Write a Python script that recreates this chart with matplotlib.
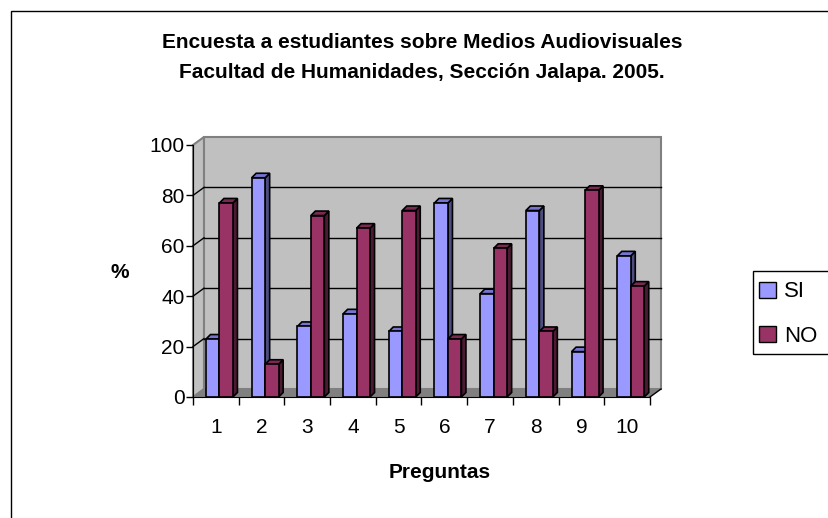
import matplotlib
matplotlib.use("Agg")
import matplotlib.pyplot as plt
from matplotlib.patches import Polygon, Rectangle, Patch

plt.rcParams['font.family'] = ['Liberation Sans', 'DejaVu Sans']

preguntas = ["1", "2", "3", "4", "5", "6", "7", "8", "9", "10"]
si = [23, 87, 28, 33, 26, 77, 41, 74, 18, 56]
no = [77, 13, 72, 67, 74, 23, 59, 26, 82, 44]
yticks = [0, 20, 40, 60, 80, 100]

W, H = 829, 518
fig = plt.figure(figsize=(W / 100, H / 100), dpi=100)
fig.patch.set_facecolor("white")

# outer chart border (cut by right/bottom of the image)
fig.patches.append(Rectangle((11 / W, -0.05), 1.1, 1 - 11 / H + 0.05,
                             transform=fig.transFigure, fill=False,
                             edgecolor="black", lw=1))

# plot area (front plane)
x0, x1 = 193, 650
yb, yt = 397, 145
ax = fig.add_axes([x0 / W, 1 - yb / H, (x1 - x0) / W, (yb - yt) / H])
n = len(preguntas)
ax.set_xlim(0, n)
ax.set_ylim(0, 100)
ax.patch.set_visible(False)

# depth of walls in data units
ddx = 11 / (x1 - x0) * n
ddy = 8 / (yb - yt) * 100
wall_edge = "#808080"
wall = "#C0C0C0"

# floor, side wall, back wall
ax.add_patch(Polygon([(0, 0), (n, 0), (n + ddx, ddy), (ddx, ddy)],
                     closed=True, facecolor="#808080", edgecolor="none",
                     clip_on=False, zorder=1))
ax.add_patch(Polygon([(0, 0), (ddx, ddy), (ddx, 100 + ddy), (0, 100)],
                     closed=True, facecolor=wall, edgecolor=wall_edge,
                     lw=1.5, clip_on=False, zorder=1))
ax.add_patch(Polygon([(ddx, ddy), (n + ddx, ddy), (n + ddx, 100 + ddy),
                      (ddx, 100 + ddy)],
                     closed=True, facecolor=wall, edgecolor=wall_edge,
                     lw=1.5, clip_on=False, zorder=1))
for v in yticks[1:-1]:
    ax.plot([ddx, n + ddx], [v + ddy, v + ddy], color="black", lw=1,
            clip_on=False, zorder=2)
    ax.plot([0, ddx], [v, v + ddy], color="black", lw=1,
            clip_on=False, zorder=2)
ax.plot([n, n + ddx], [0, ddy], color="black", lw=1, clip_on=False, zorder=2)

# 3D bars
bw = 0.295
start = 0.284
bdx = 4.5 / (x1 - x0) * n
bdy = 4.5 / (yb - yt) * 100
series = [
    (si, "#9999FF", "#7575D0", "#4D4D80"),
    (no, "#993366", "#7A2952", "#4D1A33"),
]
z = 3
for i in range(n):
    for k, (vals, front, top, side) in enumerate(series):
        left = i + start + k * bw
        right = left + bw
        h = vals[i]
        ax.add_patch(Polygon([(right, 0), (right + bdx, bdy),
                              (right + bdx, h + bdy), (right, h)],
                             closed=True, facecolor=side, edgecolor="black",
                             lw=1.2, clip_on=False, zorder=z))
        ax.add_patch(Polygon([(left, h), (right, h), (right + bdx, h + bdy),
                              (left + bdx, h + bdy)],
                             closed=True, facecolor=top, edgecolor="black",
                             lw=1.2, clip_on=False, zorder=z))
        ax.add_patch(Rectangle((left, 0), bw, h, facecolor=front,
                               edgecolor="black", lw=1.2, clip_on=False,
                               zorder=z))
        z += 1

# axes
for s in ["top", "right"]:
    ax.spines[s].set_visible(False)
ax.spines["left"].set_color("black")
ax.spines["bottom"].set_color("black")
ax.spines["left"].set_zorder(50)
ax.spines["bottom"].set_zorder(50)
ax.set_yticks(yticks)
ax.tick_params(axis="y", direction="out", length=5, width=1, pad=1,
               labelsize=15)
ax.set_xticks(range(n + 1))
ax.set_xticklabels([])
ax.set_xticks([i + 0.5 for i in range(n)], minor=True)
ax.set_xticklabels(preguntas, minor=True)
ax.tick_params(axis="x", which="major", direction="out", length=6, width=1)
ax.tick_params(axis="x", which="minor", length=0, pad=15, labelsize=15)

fig.text(120 / W, 1 - 272 / H, "%", ha="center", va="center",
         fontsize=15, fontweight="bold")
fig.text(440 / W, 1 - 473 / H, "Preguntas", ha="center", va="center",
         fontsize=15, fontweight="bold")
fig.text(422 / W, 1 - 43 / H, "Encuesta a estudiantes sobre Medios Audiovisuales",
         ha="center", va="center", fontsize=15, fontweight="bold")
fig.text(422 / W, 1 - 73 / H, "Facultad de Humanidades, Sección Jalapa. 2005.",
         ha="center", va="center", fontsize=15, fontweight="bold")

# legend: frame runs past the right edge of the image
fig.patches.append(Rectangle((753 / W, 1 - 354 / H), 0.2, 83 / H,
                             transform=fig.transFigure, fill=False,
                             edgecolor="black", lw=1))
handles = [Patch(facecolor=series[0][1], edgecolor="black", label="SI"),
           Patch(facecolor=series[1][1], edgecolor="black", label="NO")]
leg = fig.legend(handles=handles, loc="upper left",
                 bbox_to_anchor=(755 / W, 1 - 277 / H),
                 bbox_transform=fig.transFigure, frameon=False,
                 fontsize=16, handlelength=0.75, handleheight=0.75,
                 handletextpad=0.35, labelspacing=1.05,
                 borderpad=0.2, borderaxespad=0)

fig.savefig("out.png", dpi=100)
